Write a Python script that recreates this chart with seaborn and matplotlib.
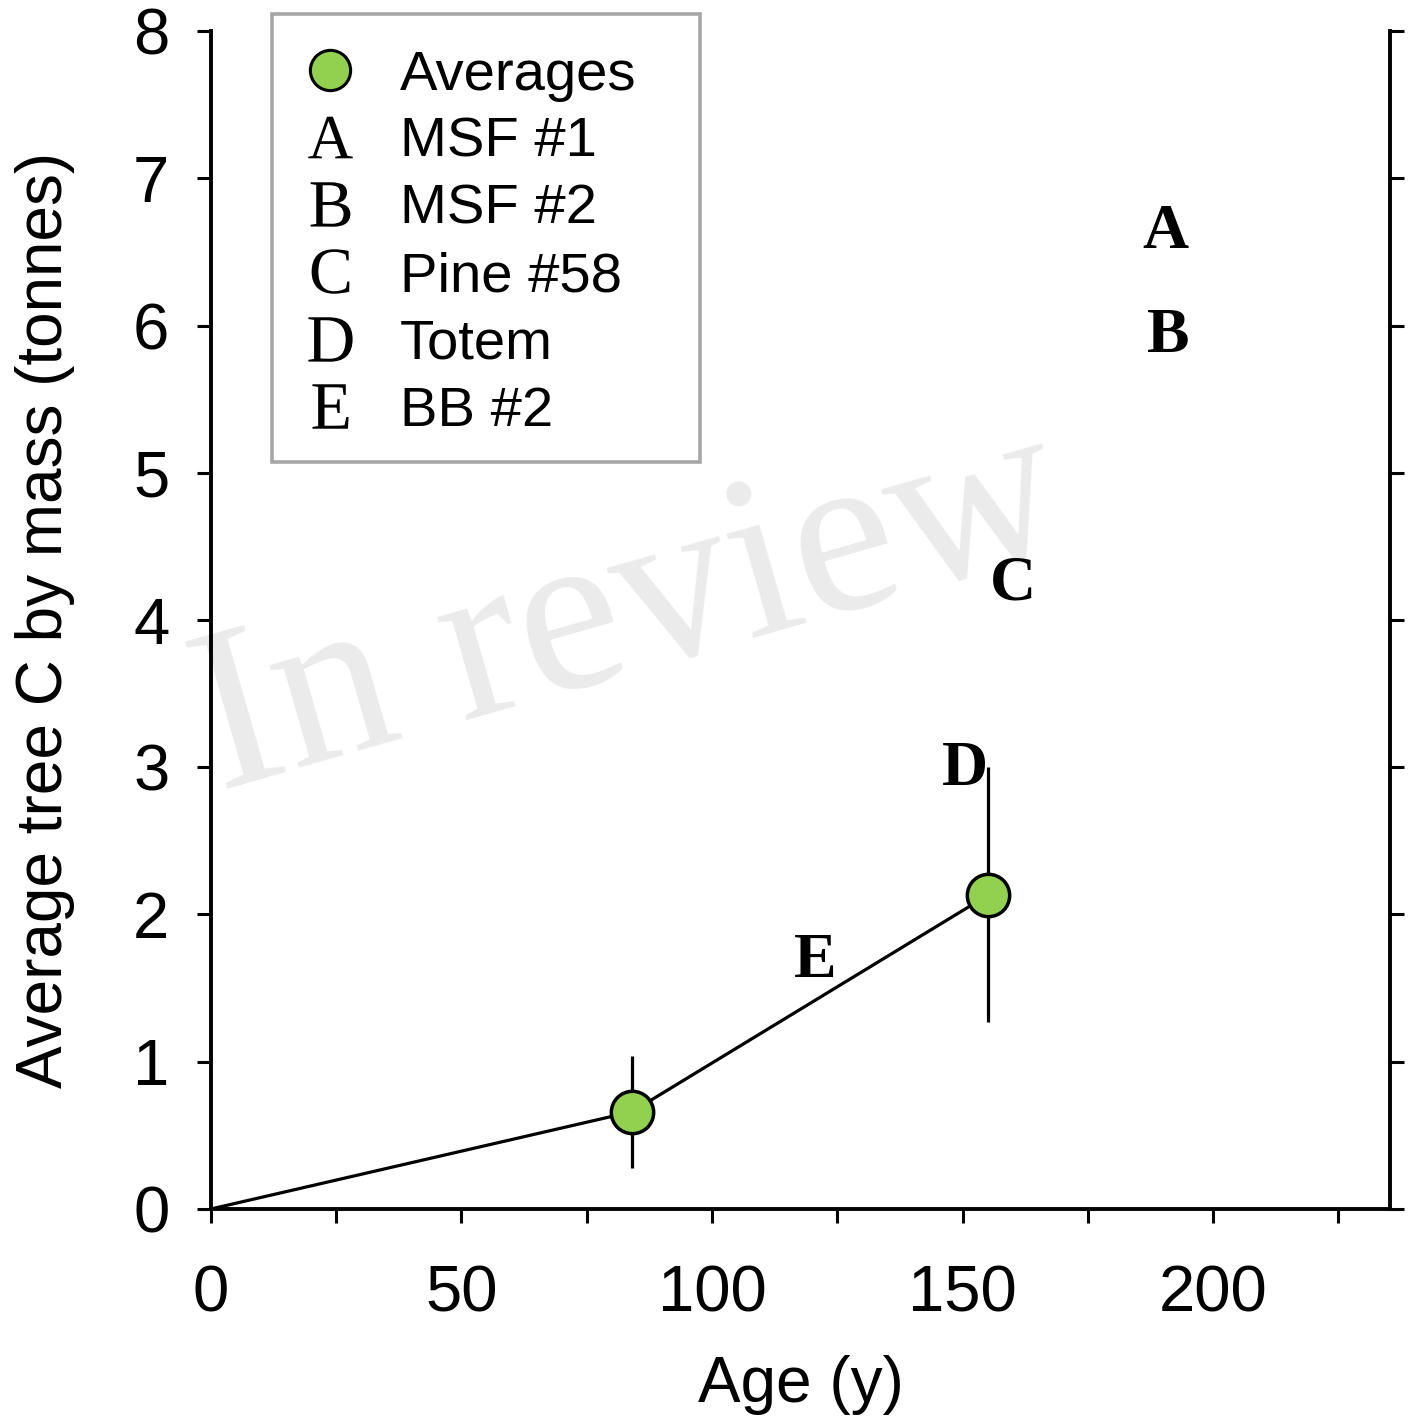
import numpy as np
import pandas as pd
import seaborn as sns
import matplotlib.pyplot as plt
from matplotlib.lines import Line2D
from matplotlib.patches import Rectangle

sns.set_style('white')
plt.rcParams['font.family'] = ['Liberation Sans', 'DejaVu Sans']
plt.rcParams['mathtext.fontset'] = 'custom'
plt.rcParams['mathtext.rm'] = 'Liberation Serif'
plt.rcParams['text.color'] = 'black'
plt.rcParams['axes.labelcolor'] = 'black'
plt.rcParams['xtick.color'] = 'black'
plt.rcParams['ytick.color'] = 'black'

# averages line (starts at the origin)
line_age = [0, 84, 155]
line_mass = [0, 0.66, 2.13]

# average points with error bars
avg_age = [84, 155]
avg_mass = [0.66, 2.13]
err_low = [0.28, 1.27]
err_high = [1.04, 3.0]

# individual sites
site_letters = ['A', 'B', 'C', 'D', 'E']
site_names = ['MSF #1', 'MSF #2', 'Pine #58', 'Totem', 'BB #2']
site_age = [190.5, 191, 160, 150.5, 120.5]
site_mass = [6.63, 5.92, 4.24, 2.98, 1.68]

x_ticks = [0, 25, 50, 75, 100, 125, 150, 175, 200, 225]
x_labels = ['0', '', '50', '', '100', '', '150', '', '200', '']
y_ticks = [0, 1, 2, 3, 4, 5, 6, 7, 8]

green = '#92d050'

fig = plt.figure(figsize=(14.14, 14.23), dpi=100)
ax = fig.add_axes([0.1492, 0.1504, 0.8338, 0.8278])

# watermark
ax.text(0.369, 0.459, 'In review', transform=ax.transAxes, fontsize=168,
        family='Liberation Serif', color='#ebebeb', rotation=16,
        ha='center', va='baseline', rotation_mode='anchor', zorder=0)

lines = pd.DataFrame({'age': line_age, 'mass': line_mass})
sns.lineplot(data=lines, x='age', y='mass', ax=ax, color='black', lw=2.3,
             zorder=2, legend=False)

avg_err = np.array([np.array(avg_mass) - np.array(err_low),
                    np.array(err_high) - np.array(avg_mass)])
ax.errorbar(avg_age, avg_mass, yerr=avg_err, fmt='none', ecolor='black',
            elinewidth=2.3, capsize=0, zorder=2)

avgs = pd.DataFrame({'age': avg_age, 'mass': avg_mass})
sns.scatterplot(data=avgs, x='age', y='mass', ax=ax, s=930, color=green,
                edgecolor='black', linewidth=2.5, zorder=3, legend=False)

for letter, x, y in zip(site_letters, site_age, site_mass):
    ax.text(x, y, letter, family='Liberation Serif', fontweight='bold',
            fontsize=46, ha='center', va='center', zorder=4)

ax.set_xlim(0, 235.3)
ax.set_ylim(0, 8)
ax.set_xticks(x_ticks)
ax.set_xticklabels(x_labels)
ax.set_yticks(y_ticks)

for side in ['left', 'bottom', 'right']:
    ax.spines[side].set_visible(True)
    ax.spines[side].set_linewidth(2.8)
    ax.spines[side].set_color('black')
ax.spines['top'].set_visible(False)

ax.tick_params(axis='both', direction='out', length=10, width=2.2,
               colors='black', labelsize=47)
ax.tick_params(axis='y', right=True, left=True, pad=20)
ax.tick_params(axis='x', bottom=True, pad=30)

ax.set_xlabel('Age (y)', fontsize=46, labelpad=22)
ax.set_ylabel('Average tree C by mass (tonnes)', fontsize=46, labelpad=42)

# legend (frame drawn as a separate box)
handles = [Line2D([], [], ls='none', marker='o', markersize=29,
                  markerfacecolor=green, markeredgecolor='black',
                  markeredgewidth=2.2)]
for letter in site_letters:
    handles.append(Line2D([], [], ls='none', marker='$\\mathrm{%s}$' % letter,
                          markersize=32, color='black', markeredgewidth=0))
leg = ax.legend(handles, ['Averages'] + site_names, loc='upper left',
                bbox_to_anchor=(0.0424, 1.0186), borderaxespad=0,
                fontsize=40.5, frameon=False, handlelength=1.0,
                handletextpad=0.75, labelspacing=0.27, borderpad=0.72)
ax.add_patch(Rectangle((0.0517, 0.634), 0.3631, 0.3804, transform=ax.transAxes,
                       fill=False, edgecolor='#a6a6a6', linewidth=2.6,
                       clip_on=False, zorder=5))

fig.savefig('out.png', dpi=100)
